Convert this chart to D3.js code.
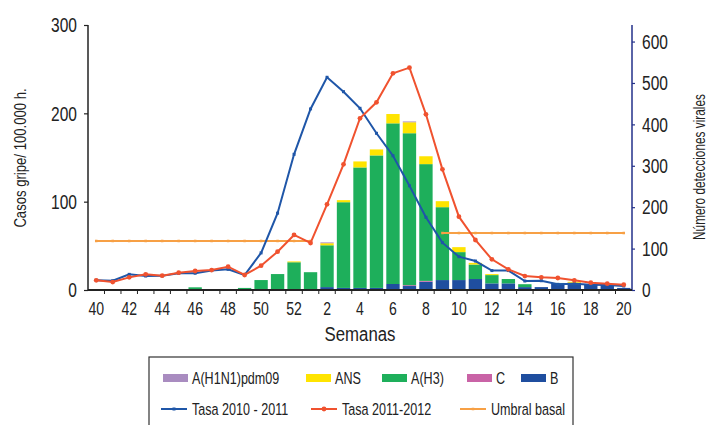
<!DOCTYPE html>
<html>
  <head>
    <meta charset="utf-8">
    <script src="https://d3js.org/d3.v7.min.js"></script>
    <style>
      body { margin: 0; background: #fff; }
      svg text { font-family: "Liberation Sans", Arial, sans-serif; fill: #222; }
    </style>
  </head>
  <body>
    <script type="text/javascript">
      "use strict";

      // weeks of the season (40..52, then 1..20)
      var semanas = ["40","41","42","43","44","45","46","47","48","49","50","51","52",
                     "1","2","3","4","5","6","7","8","9","10","11","12","13","14","15","16","17","18","19","20"];

      // virus detections (right axis)
      var virB    = [0,0,0,0,1,1,0,1,0,0,0,0,0, 0,7,5,5,5,14.5,9.6,20,24,24,26.5,16,16,7,7,16,17.5,13,13,5];
      var virC    = [0,0,0,0,0,0,0,0,0,0,0,0,0, 0,0,0,0,0,0,2,2,0,0,0,0,0,0,0,0,0,0,0,0];
      var virH3   = [2,0,0,0,0,0,6.5,0,0,5,24,38.5,67, 43,101,207,291,320,388,367,282,176,67.5,35,20,10.5,7,0,1,0,0,0,0];
      var virANS  = [0,0,0,0,0,0,0,0,2,0,0,0,2, 0,5,5,14.5,14.5,22.5,26.5,19,14.5,12,4,2.4,0,0,0,0,2.4,0,0,0];
      var virH1N1 = [0,0,0,0,0,0,0,0,0,0,0,0,0, 0,2,0,0,0,0,2,0,0,0,0,0,0,0,0,0,0,0,0,0];

      // rates per 100.000 inhabitants (left axis)
      var tasa1011 = [11,10.5,17.7,15.8,16,19,19,22,23.4,17,42,87,153.6,
                      205,240.8,224.5,205.7,177.4,152,118,82.3,53.6,37.7,32.8,22,22,10.2,10.5,6.4,7,6,5.7,4.5];
      var tasa1112 = [11,9,14.3,17.7,16.2,19.6,21.5,22.6,26.4,17,27.5,43.4,62.3,
                      53.2,97,142.3,194.4,212.5,245.3,251.7,198.9,136.6,83,56.6,34.7,23.4,15.8,14.3,13.6,11,8.3,7.2,6];
      var umbral   = [55.5,55.5,55.5,55.5,55.5,55.5,55.5,55.5,55.5,55.5,55.5,55.5,55.5,
                      55.5,null,null,null,null,null,null,null,64.5,64.5,64.5,64.5,64.5,64.5,64.5,64.5,64.5,64.5,64.5,64.5];

      var ticksIzq = [0, 100, 200, 300];
      var ticksDer = [0, 100, 200, 300, 400, 500, 600];

      var serieVirus = [
        {key: "B", label: "B", color: "#1f4e9f", values: virB},
        {key: "C", label: "C", color: "#c963a6", values: virC},
        {key: "H3", label: "A(H3)", color: "#1eaf5b", values: virH3},
        {key: "ANS", label: "ANS", color: "#ffe400", values: virANS},
        {key: "H1N1", label: "A(H1N1)pdm09", color: "#a98cc0", values: virH1N1}
      ];

      var width = 707, height = 425;
      var mLeft = 88, mRight = 632, mTop = 25, mBottom = 290;
      var K = 0.74; // horizontal squeeze to imitate the condensed typeface

      // squeeze text horizontally, keeping its anchor point in place
      function narrow(sel, k) {
        sel.each(function () {
          var t = d3.select(this);
          var x0 = +t.attr("x") || 0;
          t.attr("x", x0 / k).attr("transform", "scale(" + k + ",1)");
        });
      }

      var svg = d3.select("body").append("svg")
        .attr("width", width)
        .attr("height", height);

      var x = d3.scaleBand().domain(semanas).range([mLeft, mRight]).paddingInner(0.19).paddingOuter(0.095);
      var yL = d3.scaleLinear().domain([0, 300]).range([mBottom, mTop]);
      var yR = d3.scaleLinear().domain([0, 640]).range([mBottom, mTop]);

      // stacked bars
      var tabla = semanas.map(function (s, i) {
        var o = {semana: s};
        serieVirus.forEach(function (v) { o[v.key] = v.values[i]; });
        return o;
      });
      var stack = d3.stack().keys(serieVirus.map(function (v) { return v.key; }))(tabla);

      svg.append("g").selectAll("g")
        .data(stack)
        .join("g")
          .attr("fill", function (d, i) { return serieVirus[i].color; })
        .selectAll("rect")
        .data(function (d) { return d; })
        .join("rect")
          .attr("x", function (d) { return x(d.data.semana); })
          .attr("width", x.bandwidth())
          .attr("y", function (d) { return yR(d[1]); })
          .attr("height", function (d) { return Math.max(0, yR(d[0]) - yR(d[1])); });

      // lines
      var cx = function (i) { return x(semanas[i]) + x.bandwidth() / 2; };
      var linea = d3.line()
        .defined(function (d) { return d != null; })
        .x(function (d, i) { return cx(i); })
        .y(function (d) { return yL(d); });

      var lineas = [
        {values: umbral, color: "#f7a045", marker: "sq", size: 2.5},
        {values: tasa1011, color: "#1f56a8", marker: "sq", size: 3},
        {values: tasa1112, color: "#f0522f", marker: "circle", size: 2.4}
      ];

      lineas.forEach(function (l) {
        svg.append("path")
          .datum(l.values)
          .attr("fill", "none")
          .attr("stroke", l.color)
          .attr("stroke-width", 2)
          .attr("d", linea);
        var pts = l.values.map(function (v, i) { return {v: v, i: i}; })
          .filter(function (d) { return d.v != null; });
        if (l.marker === "circle") {
          svg.append("g").selectAll("circle").data(pts).join("circle")
            .attr("cx", function (d) { return cx(d.i); })
            .attr("cy", function (d) { return yL(d.v); })
            .attr("r", l.size)
            .attr("fill", l.color);
        } else {
          svg.append("g").selectAll("rect").data(pts).join("rect")
            .attr("x", function (d) { return cx(d.i) - l.size / 2; })
            .attr("y", function (d) { return yL(d.v) - l.size / 2; })
            .attr("width", l.size)
            .attr("height", l.size)
            .attr("fill", l.color);
        }
      });

      // left axis
      var axL = svg.append("g")
        .attr("transform", "translate(" + mLeft + ",0)")
        .call(d3.axisLeft(yL).tickValues(ticksIzq).tickSize(4).tickPadding(7));
      axL.select(".domain").attr("stroke", "#222").attr("stroke-width", 1.5).attr("d", "M0," + mTop + "V" + mBottom);
      axL.selectAll(".tick line").attr("stroke", "#222").attr("stroke-width", 1.2);
      axL.selectAll("text").style("font-size", "21px").attr("fill", "#222").call(narrow, K);

      // right axis
      var axR = svg.append("g")
        .attr("transform", "translate(" + mRight + ",0)")
        .call(d3.axisRight(yR).tickValues(ticksDer).tickSize(3).tickPadding(7));
      axR.select(".domain").attr("stroke", "#23318a").attr("stroke-width", 1.5).attr("d", "M0," + mTop + "V" + mBottom);
      axR.selectAll(".tick line").attr("stroke", "#23318a").attr("stroke-width", 1.2);
      axR.selectAll("text").style("font-size", "21px").attr("fill", "#222").call(narrow, K);

      // bottom axis: line, ticks at band edges, labels on even weeks
      var axB = svg.append("g")
        .attr("transform", "translate(0," + mBottom + ")")
        .call(d3.axisBottom(x).tickSize(0).tickPadding(12)
          .tickValues(semanas.filter(function (s) { return +s % 2 === 0; })));
      axB.select(".domain").attr("stroke", "#222").attr("stroke-width", 2).attr("d", "M" + mLeft + ",0H" + mRight);
      axB.selectAll("text").style("font-size", "19px").attr("fill", "#222").call(narrow, K);
      axB.selectAll("line.edge")
        .data(semanas.slice(0, -1))
        .join("line")
          .attr("class", "edge")
          .attr("x1", function (s) { return x(s) + x.step() - (x.step() - x.bandwidth()) / 2; })
          .attr("x2", function (s) { return x(s) + x.step() - (x.step() - x.bandwidth()) / 2; })
          .attr("y1", 0)
          .attr("y2", 4)
          .attr("stroke", "#222")
          .attr("stroke-width", 1);

      svg.append("text")
        .attr("x", (mLeft + mRight) / 2)
        .attr("y", 341)
        .attr("text-anchor", "middle")
        .style("font-size", "21px")
        .text("Semanas")
        .call(narrow, 0.8);

      svg.append("text")
        .attr("transform", "translate(26,158) rotate(-90) scale(0.82,1)")
        .attr("text-anchor", "middle")
        .style("font-size", "16px")
        .text("Casos gripe/ 100.000 h.");

      svg.append("text")
        .attr("transform", "translate(705,167) rotate(-90) scale(0.74,1)")
        .attr("text-anchor", "middle")
        .style("font-size", "16px")
        .text("Número detecciones virales");

      // legend
      var lg = svg.append("g");
      lg.append("rect")
        .attr("x", 149).attr("y", 357)
        .attr("width", 424).attr("height", 80)
        .attr("fill", "none").attr("stroke", "#333").attr("stroke-width", 1.2);

      var leg1 = [
        {s: serieVirus[4], x: 163},
        {s: serieVirus[3], x: 306},
        {s: serieVirus[2], x: 382},
        {s: serieVirus[1], x: 467},
        {s: serieVirus[0], x: 521}
      ];
      leg1.forEach(function (d) {
        lg.append("rect").attr("x", d.x).attr("y", 374).attr("width", 25).attr("height", 8).attr("fill", d.s.color);
        lg.append("text").attr("x", d.x + 29).attr("y", 384).style("font-size", "17px").text(d.s.label).call(narrow, K);
      });

      var leg2 = [
        {l: lineas[1], label: "Tasa 2010 - 2011", x: 161},
        {l: lineas[2], label: "Tasa 2011-2012", x: 311},
        {l: lineas[0], label: "Umbral basal", x: 460}
      ];
      leg2.forEach(function (d) {
        lg.append("line").attr("x1", d.x).attr("x2", d.x + 26).attr("y1", 409).attr("y2", 409)
          .attr("stroke", d.l.color).attr("stroke-width", 2);
        if (d.l.marker === "circle") {
          lg.append("circle").attr("cx", d.x + 13).attr("cy", 409).attr("r", d.l.size).attr("fill", d.l.color);
        } else {
          lg.append("rect").attr("x", d.x + 13 - d.l.size / 2).attr("y", 409 - d.l.size / 2)
            .attr("width", d.l.size).attr("height", d.l.size).attr("fill", d.l.color);
        }
        lg.append("text").attr("x", d.x + 31).attr("y", 415).style("font-size", "17px").text(d.label).call(narrow, K);
      });
    </script>
  </body>
</html>
